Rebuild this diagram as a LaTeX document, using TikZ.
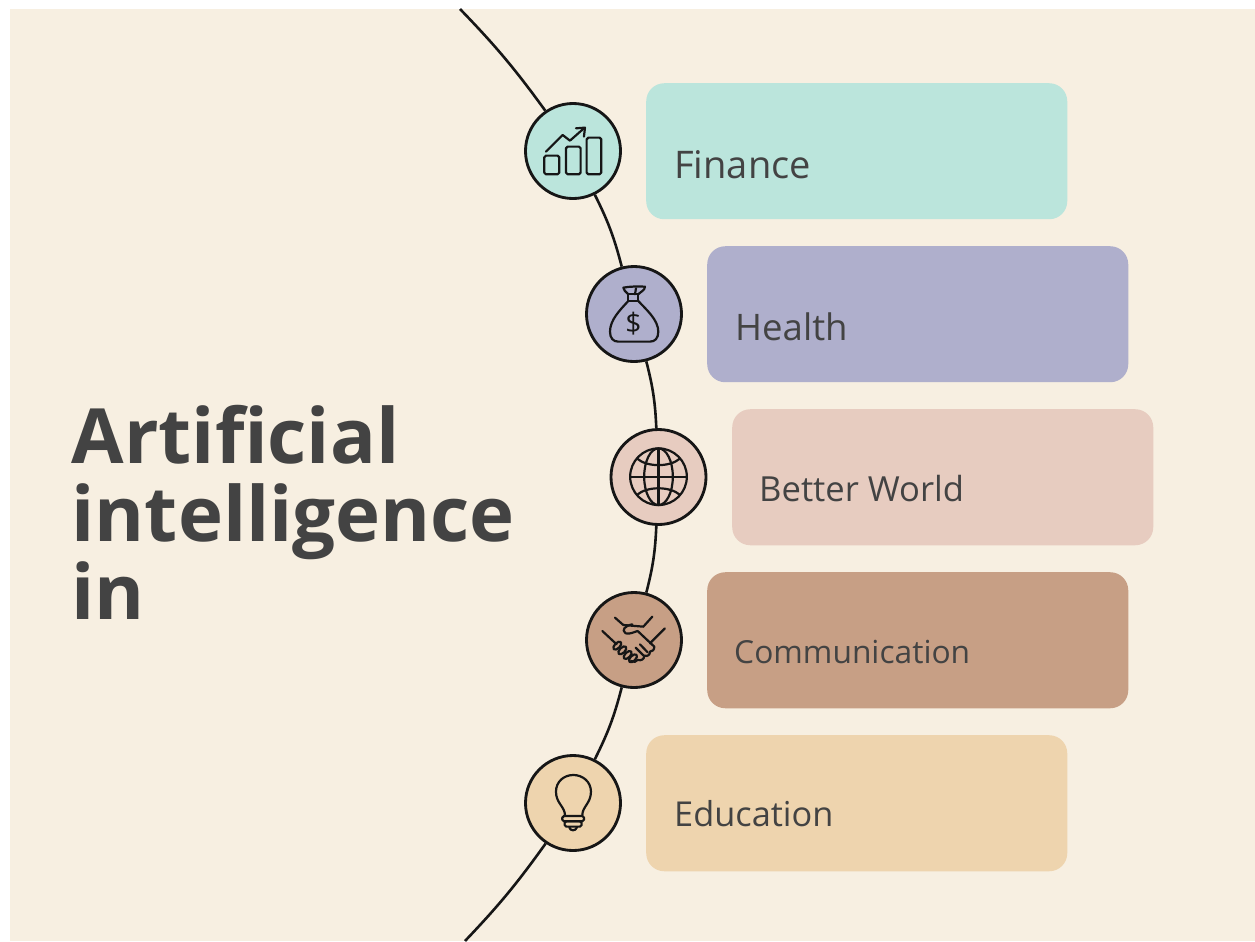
\documentclass[tikz,border=0pt]{standalone}
\usepackage{fontspec}
\setmainfont{Open Sans}
\definecolor{bgc}{HTML}{F7EFE1}
\definecolor{teal}{HTML}{BBE5DC}
\definecolor{lav}{HTML}{AFAFCC}
\definecolor{pinkc}{HTML}{E7CCC0}
\definecolor{brownc}{HTML}{C79F85}
\definecolor{tanc}{HTML}{EED4AE}
\definecolor{ink}{HTML}{161616}
\definecolor{txt}{HTML}{434343}
\newcommand{\lsize}[1]{\fontsize{#1}{#1}\selectfont}
\tikzset{
  card/.style={anchor=north west,minimum width=12.63cm,minimum height=4.08cm,rounded corners=0.54cm,inner sep=0pt},
  disc/.style={circle,draw=ink,line width=0.085cm,minimum size=2.85cm,inner sep=0pt},
  label/.style={anchor=base west,inner sep=0pt,text=txt},
  arcline/.style={draw=ink,line width=0.078cm},
  icon/.style={draw=ink,line width=0.066cm,line join=round,line cap=round},
}
\begin{document}
\begin{tikzpicture}[x=0.03cm,y=-0.03cm]
\useasboundingbox (0,0) rectangle (1255,941);
\fill[white] (0,0) rectangle (1255,941);
\fill[bgc] (10,9) rectangle (1255,941);
\node[anchor=base west,inner sep=0pt,align=left,text=txt,font=\fontsize{65}{66.6}\selectfont\bfseries] (title) at (71.5,619.5) {Artificial\\intelligence\\in};
\node[card,fill=teal] (b1) at (646,83) {};
\node[card,fill=lav] (b2) at (707,246) {};
\node[card,fill=pinkc] (b3) at (732,409) {};
\node[card,fill=brownc] (b4) at (707,572) {};
\node[card,fill=tanc] (b5) at (646,735) {};
\node[label,font=\lsize{32.5}] (l1) at (674,178) {Finance};
\node[label,font=\lsize{31.2}] (l2) at (735,340) {Health};
\node[label,font=\lsize{29.5}] (l3) at (759,501) {Better World};
\node[label,font=\lsize{27.1}] (l4) at (734,663.5) {Communication};
\node[label,font=\lsize{29.3}] (l5) at (674,826) {Education};
\node[disc,fill=teal] (c1) at (573,151) {};
\node[disc,fill=lav] (c2) at (634,314) {};
\node[disc,fill=pinkc] (c3) at (658.5,477) {};
\node[disc,fill=brownc] (c4) at (634,640) {};
\node[disc,fill=tanc] (c5) at (573,803) {};
\coordinate (top) at (460,9);
\coordinate (bot) at (465,941);
\draw[arcline] (top) to[bend left=4] (c1);
\draw[arcline] (c1) to[bend left=6] (c2);
\draw[arcline] (c2) to[bend left=6] (c3);
\draw[arcline] (c3) to[bend left=6] (c4);
\draw[arcline] (c4) to[bend left=6] (c5);
\draw[arcline] (c5) to[bend left=4] (bot);
% chart icon
\begin{scope}[shift={(510,90)},x=0.01cm,y=-0.01cm]
\draw[icon,rounded corners=0.05cm] (103,197) rectangle (148,253);
\draw[icon,rounded corners=0.05cm] (168,170) rectangle (212,253);
\draw[icon,rounded corners=0.05cm] (230,143) rectangle (274,253);
\draw[icon] (108,185) -- (158,135) -- (180,152) -- (222,115);
\draw[icon] (198,115) -- (225,113) -- (222,140);
\end{scope}
% bag icon
\begin{scope}[shift={(590,275)},x=0.01cm,y=-0.01cm]
\draw[icon] (115,58) .. controls (108,50) and (100,46) .. (100,38) .. controls (120,34) and (145,34) .. (165,35) .. controls (165,46) and (152,50) .. (145,58);
\draw[icon] (115,58) -- (145,58) -- (145,78) -- (115,78) -- cycle;
\draw[icon] (138,40) -- (135,58);
\draw[icon] (115,78) .. controls (90,105) and (60,135) .. (60,170) .. controls (60,190) and (70,200) .. (85,200) -- (180,200) .. controls (195,200) and (205,190) .. (205,170) .. controls (205,135) and (170,105) .. (145,78);
\end{scope}
\node[inner sep=0pt,text=ink,font=\fontsize{24}{24}\selectfont] (dollar) at (633.5,324) {\$};
% globe icon
\begin{scope}[shift={(658.5,476.7)},x=0.01cm,y=-0.01cm]
\draw[icon] (0,0) circle [radius=0.85cm];
\draw[icon] (0,0) ellipse [x radius=0.43cm,y radius=0.85cm];
\draw[icon] (0,-85) -- (0,85);
\draw[icon] (-85,0) -- (85,0);
\draw[icon] (-65,-55) .. controls (-35,-28) and (35,-28) .. (65,-55);
\draw[icon] (-65,55) .. controls (-35,28) and (35,28) .. (65,55);
\end{scope}
% handshake icon
\begin{scope}[shift={(595,605)},x=0.01cm,y=-0.01cm]
\draw[icon] (22,78) -- (65,118);
\draw[icon] (210,70) -- (165,115);
\draw[icon] (60,38) -- (85,60) -- (145,65) -- (172,35);
\draw[icon] (112,58) .. controls (90,62) and (78,75) .. (92,85) .. controls (105,88) and (115,82) .. (128,78) -- (178,125);
\draw[icon] (178,125) .. controls (178,135) and (172,140) .. (165,140) .. controls (165,150) and (158,155) .. (148,152) .. controls (148,162) and (140,168) .. (128,165) .. controls (125,172) and (115,172) .. (108,168);
\foreach \a/\b in {67/122,82/136,98/150,114/160}{
  \draw[icon,rotate around={45:(\a,\b)}] (\a,\b) ellipse [x radius=0.15cm,y radius=0.08cm];
}
\draw[icon] (135,118) -- (158,142);
\draw[icon] (122,128) -- (146,152);
\end{scope}
% bulb icon
\begin{scope}[shift={(510,740)},x=0.01cm,y=-0.01cm]
\draw[icon] (165,226) .. controls (165,200) and (138,190) .. (138,155) .. controls (138,125) and (162,105) .. (190,105) .. controls (218,105) and (243,125) .. (243,155) .. controls (243,190) and (217,200) .. (217,226);
\draw[icon,rounded corners=0.05cm] (157,228) rectangle (222,244);
\draw[icon,rounded corners=0.05cm] (164,244) rectangle (215,260);
\draw[icon] (178,262) .. controls (180,274) and (198,274) .. (201,262);
\end{scope}
\end{tikzpicture}
\end{document}
